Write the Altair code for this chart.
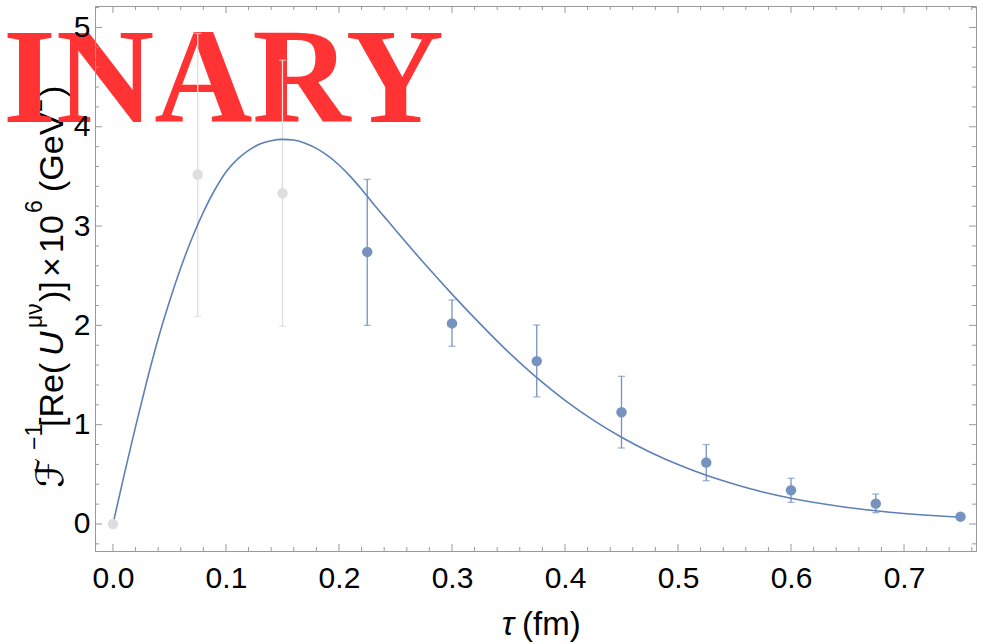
import altair as alt
import pandas as pd

# ---------------- data ----------------
tau_pts = [0.0, 0.075, 0.15, 0.225, 0.3, 0.375, 0.45, 0.525, 0.6, 0.675, 0.75]
val_pts = [0.0, 3.52, 3.33, 2.74, 2.02, 1.64, 1.125, 0.618, 0.339, 0.205, 0.074]
err_lo = [0.0, 2.09, 1.99, 2.0, 1.79, 1.28, 0.765, 0.436, 0.218, 0.114, 0.06]
err_hi = [0.0, 4.94, 4.67, 3.47, 2.256, 2.004, 1.487, 0.80, 0.46, 0.302, 0.09]
pt_group = ["excluded", "excluded", "excluded", "fit", "fit", "fit", "fit",
            "fit", "fit", "fit", "fit"]

curve_tau = [0.0, 0.01, 0.02, 0.03, 0.04, 0.05, 0.06, 0.07, 0.08, 0.09,
             0.10, 0.11, 0.12, 0.13, 0.14, 0.15, 0.16, 0.17, 0.18, 0.19,
             0.20, 0.21, 0.22, 0.23, 0.24, 0.25, 0.275, 0.30, 0.325, 0.35,
             0.375, 0.40, 0.425, 0.45, 0.475, 0.50, 0.525, 0.55, 0.575, 0.60,
             0.625, 0.65, 0.675, 0.70, 0.725, 0.75]
curve_val = [0.0, 0.50, 0.98, 1.44, 1.865, 2.24, 2.58, 2.88, 3.141, 3.363,
             3.545, 3.672, 3.762, 3.826, 3.86, 3.873, 3.866, 3.834, 3.782, 3.709,
             3.615, 3.50, 3.37, 3.23, 3.095, 2.96, 2.63, 2.315, 2.015, 1.73,
             1.473, 1.245, 1.046, 0.874, 0.725, 0.598, 0.49, 0.40, 0.322, 0.259,
             0.208, 0.166, 0.133, 0.106, 0.085, 0.068]

x_major = [0.0, 0.1, 0.2, 0.3, 0.4, 0.5, 0.6, 0.7]
x_minor = [round(0.02 * i, 2) for i in range(0, 39) if i % 5 != 0]
y_major = [0, 1, 2, 3, 4, 5]
y_minor = [round(0.2 * i, 1) for i in range(-1, 27) if i % 5 != 0]

watermark = "PRELIMINARY"
x_title = ["τ", "(fm)"]
# y title pieces: (text, role)
y_title = [("ℱ", "main"), ("−1", "sup"), ("[Re(", "main"), ("U", "ital"),
           ("μν", "sup"), (")]", "main"), ("×", "main"), ("10", "main"),
           ("6", "sup"), ("(GeV", "main"), ("2", "sup"), (")", "main")]
# start position (bottom end) of each piece, in page pixels
y_title_start = [488, 450, 427, 356, 328, 302, 277, 253, 213, 192, 112, 97]

# ---------------- layout ----------------
W, H = 881, 545
PL, PT = 95, 6
FONT = "Liberation Sans"
FRAME = "#9a9a9a"
BLUE = "#5E81B5"

xs = alt.Scale(domain=[-0.0159, 0.7637], nice=False, zero=False)
ys = alt.Scale(domain=[-0.272, 5.216], nice=False, zero=False)

x_axis = alt.Axis(values=x_major, format=".1f", labelFontSize=30, labelFont=FONT,
                  labelColor="black", ticks=False, domain=True, domainColor=FRAME,
                  domainWidth=1, labelPadding=12, grid=False, title=None, zindex=1,
                  labelFlush=False, labelOverlap=False)
y_axis = alt.Axis(values=y_major, format="d", labelFontSize=30, labelFont=FONT,
                  labelColor="black", ticks=False, domain=True, domainColor=FRAME,
                  domainWidth=1, labelPadding=5, grid=False, title=None, zindex=1,
                  labelFlush=False, labelOverlap=False)

X = lambda: alt.X("tau:Q", scale=xs, axis=x_axis)
Y = lambda: alt.Y("val:Q", scale=ys, axis=y_axis)

pts = pd.DataFrame({"tau": tau_pts, "val": val_pts, "lo": err_lo, "hi": err_hi,
                    "grp": pt_group})
curve = pd.DataFrame({"tau": curve_tau, "val": curve_val})
one = pd.DataFrame({"k": [0]})

layers = []


def txt(s, xa, ya, size, angle=270, align="left", italic=False, font=FONT,
        color="black", weight="normal"):
    return alt.Chart(one).mark_text(
        text=s, angle=angle, align=align, baseline="alphabetic", fontSize=size,
        font=font, fontStyle="italic" if italic else "normal", fontWeight=weight,
        color=color).encode(x=alt.value(xa - PL), y=alt.value(ya - PT))


# y title
for (s, role), start in zip(y_title, y_title_start):
    if role == "sup":
        layers.append(txt(s, 42, start, 23))
    elif s == "ℱ":
        layers.append(txt(s, 63, start, 38, font="DejaVu Sans"))
    else:
        layers.append(txt(s, 63, start, 34, italic=(role == "ital")))

# x title
layers.append(txt(x_title[0], 514, 635, 33, angle=0, align="right", italic=True))
layers.append(txt(x_title[1], 522, 635, 33, angle=0, align="left"))

# watermark
layers.append(txt(watermark, 444, 122, 136, angle=0, align="right",
                  font="Liberation Serif", color="#FF3333", weight="bold"))

# frame ticks (inward)
xt_major = pd.DataFrame({"tau": x_major})
xt_minor = pd.DataFrame({"tau": x_minor})
yt_major = pd.DataFrame({"val": y_major})
yt_minor = pd.DataFrame({"val": y_minor})
for df, ln in [(xt_major, 7), (xt_minor, 4)]:
    layers.append(alt.Chart(df).mark_rule(color=FRAME, strokeWidth=1).encode(
        x=X(), y=alt.value(H), y2=alt.value(H - ln)))
    layers.append(alt.Chart(df).mark_rule(color=FRAME, strokeWidth=1).encode(
        x=X(), y=alt.value(0), y2=alt.value(ln)))
for df, ln in [(yt_major, 7), (yt_minor, 4)]:
    layers.append(alt.Chart(df).mark_rule(color=FRAME, strokeWidth=1).encode(
        y=Y(), x=alt.value(0), x2=alt.value(ln)))
    layers.append(alt.Chart(df).mark_rule(color=FRAME, strokeWidth=1).encode(
        y=Y(), x=alt.value(W), x2=alt.value(W - ln)))

err_color = alt.Color("grp:N", scale=alt.Scale(domain=["excluded", "fit"],
                                               range=["#DEDEDE", "#7693C0"]),
                      legend=None)
pt_color = alt.Color("grp:N", scale=alt.Scale(domain=["excluded", "fit"],
                                              range=["#D9D9D9", BLUE]),
                     legend=None)

eb = alt.Chart(pts).transform_filter("datum.lo < datum.hi")
layers.append(eb.mark_rule(strokeWidth=1.3).encode(
    x=X(), y=alt.Y("lo:Q", scale=ys, axis=y_axis), y2="hi:Q", color=err_color))
layers.append(eb.mark_tick(orient="horizontal", size=7, thickness=1.3).encode(
    x=X(), y=alt.Y("lo:Q", scale=ys, axis=y_axis), color=err_color))
layers.append(eb.mark_tick(orient="horizontal", size=7, thickness=1.3).encode(
    x=X(), y=alt.Y("hi:Q", scale=ys, axis=y_axis), color=err_color))

layers.append(alt.Chart(curve).mark_line(interpolate="monotone", color=BLUE,
                                         strokeWidth=1.6).encode(x=X(), y=Y()))

layers.append(alt.Chart(pts).mark_circle(size=110, opacity=1).encode(
    x=X(), y=Y(), color=pt_color))

chart = alt.layer(*layers).properties(
    width=W, height=H,
    autosize=alt.AutoSizeParams(type="none"),
    padding={"left": PL, "top": PT, "right": 983 - PL - W, "bottom": 644 - PT - H},
    background="white",
).configure_view(stroke=FRAME, strokeWidth=1)

chart.save("out.html", embed_options={"renderer": "svg", "actions": False})
